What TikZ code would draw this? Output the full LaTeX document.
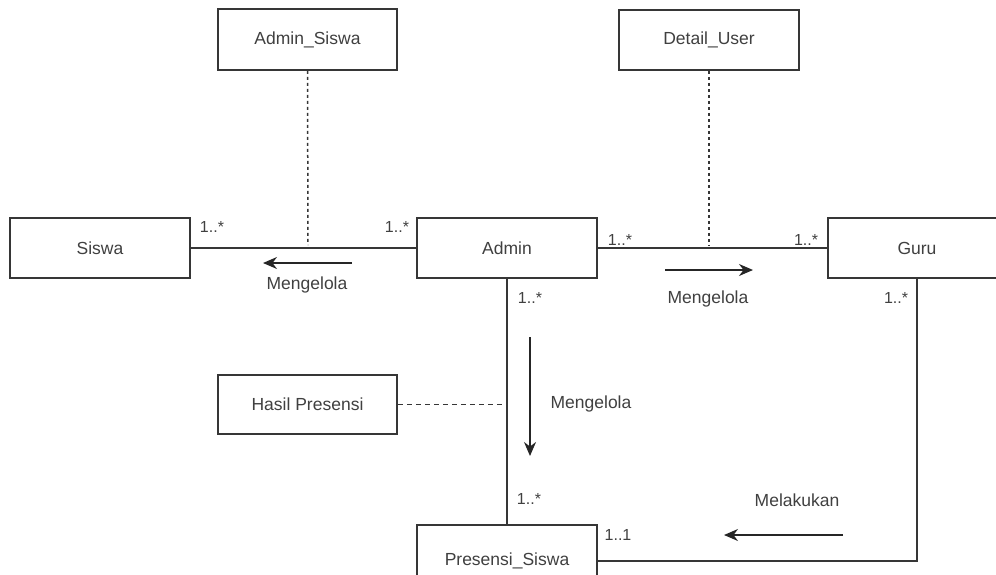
\documentclass[tikz,border=0pt]{standalone}
\usepackage{fontspec}
\setmainfont{Liberation Sans}
\usetikzlibrary{arrows.meta}
\definecolor{ink}{HTML}{363636}
\definecolor{txt}{HTML}{404040}
\tikzset{
  cls/.style={draw=ink, line width=1.6pt, fill=white, inner sep=0pt, text=txt, font=\fontsize{17.5}{20}\selectfont},
  assoc/.style={draw=ink, line width=1.6pt},
  dotline/.style={draw=ink, line width=1.5pt, dash pattern=on 3pt off 3pt},
  dashline/.style={draw=ink, line width=1.3pt, dash pattern=on 5pt off 4pt},
  dirarrow/.style={draw=black!85, line width=1.6pt, -{Stealth[length=14pt,width=12pt]}},
  lbl/.style={text=txt, inner sep=0pt, font=\fontsize{17.5}{20}\selectfont},
  mult/.style={text=txt, inner sep=0pt, font=\fontsize{16}{18}\selectfont}
}
\begin{document}
\begin{tikzpicture}[x=1pt,y=-1pt]
\useasboundingbox (0,0) rectangle (996,574);
\clip (0,0) rectangle (996,574);

% classes
\node[cls, minimum width=179pt, minimum height=61pt] (adminsiswa) at (307.5,39.5) {Admin\_Siswa};
\node[cls, minimum width=180pt, minimum height=60pt] (detailuser) at (709,40) {Detail\_User};
\node[cls, minimum width=180pt, minimum height=60pt] (siswa) at (100,248) {Siswa};
\node[cls, minimum width=180pt, minimum height=60pt] (admin) at (507,248) {Admin};
\node[cls, minimum width=178pt, minimum height=60pt] (guru) at (917,248) {Guru};
\node[cls, minimum width=179pt, minimum height=59pt] (hasil) at (307.5,404.5) {Hasil Presensi};
\node[cls, minimum width=180pt, minimum height=72pt] (presensi) at (507,561) {Presensi\_Siswa};

% associations
\draw[assoc] (siswa.east) -- (admin.west);
\draw[assoc] (admin.east) -- (guru.west);
\draw[assoc] (admin.south) -- (presensi.north);
\coordinate (gcorner) at (917,561);
\draw[assoc] (guru.south) -- (gcorner) -- (presensi.east);

% association class links
\coordinate (asEnd) at (308,245);
\coordinate (duEnd) at (709,245);
\coordinate (hpEnd) at (505,404.5);
\draw[dotline] (adminsiswa.south) -- (asEnd);
\draw[dotline] (detailuser.south) -- (duEnd);
\draw[dashline] (hasil.east) -- (hpEnd);

% direction arrows
\coordinate (a1s) at (352,263); \coordinate (a1e) at (263,263);
\coordinate (a2s) at (665,270); \coordinate (a2e) at (753,270);
\coordinate (a3s) at (530,337); \coordinate (a3e) at (530,456);
\coordinate (a4s) at (843,535); \coordinate (a4e) at (724,535);
\draw[dirarrow] (a1s) -- (a1e);
\draw[dirarrow] (a2s) -- (a2e);
\draw[dirarrow] (a3s) -- (a3e);
\draw[dirarrow] (a4s) -- (a4e);

% labels
\node[lbl] (l1) at (307,285) {Mengelola};
\node[lbl] (l2) at (708,299) {Mengelola};
\node[lbl] (l3) at (591,404) {Mengelola};
\node[lbl] (l4) at (797,500) {Melakukan};

% multiplicities
\node[mult] (m1) at (212,227) {1..*};
\node[mult] (m2) at (397,227) {1..*};
\node[mult] (m3) at (620,240) {1..*};
\node[mult] (m4) at (806,240) {1..*};
\node[mult] (m5) at (530,298) {1..*};
\node[mult] (m6) at (896,298) {1..*};
\node[mult] (m7) at (529,499) {1..*};
\node[mult] (m8) at (618,535) {1..1};
\end{tikzpicture}
\end{document}
